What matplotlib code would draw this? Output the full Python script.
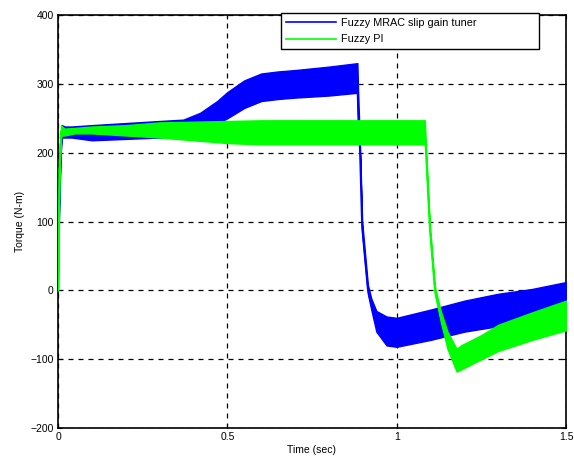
import numpy as np
import matplotlib
matplotlib.use("Agg")
import matplotlib.pyplot as plt

plt.rcParams['font.family'] = ['Liberation Sans', 'DejaVu Sans']

# Fuzzy MRAC slip gain tuner: envelope of the oscillating torque band
t_mrac = [0.000, 0.003, 0.008, 0.012, 0.02, 0.04, 0.10, 0.20, 0.30, 0.37, 0.42, 0.47, 0.50,
          0.55, 0.60, 0.65, 0.70, 0.80, 0.884, 0.886, 0.892, 0.898, 0.915, 0.925, 0.94,
          0.97, 1.00, 1.10, 1.20, 1.30, 1.40, 1.50]
lo_mrac = [35, 110, 200, 222, 222, 222, 218, 220, 222, 225, 232, 242, 250,
           265, 275, 278, 280, 283, 287, 240, 195, 85, -5, -28, -60,
           -80, -82, -72, -60, -52, -45, -37]
hi_mrac = [35, 120, 215, 240, 238, 238, 240, 243, 246, 248, 258, 275, 288,
           305, 315, 318, 320, 325, 330, 290, 205, 100, 8, -12, -30,
           -38, -40, -28, -15, -5, 2, 12]

# Fuzzy PI
t_pi = [0.000, 0.002, 0.004, 0.006, 0.009, 0.012, 0.02, 0.05, 0.10, 0.20, 0.30, 0.40, 0.50,
        0.60, 0.80, 1.00, 1.083, 1.086, 1.092, 1.098, 1.113, 1.13, 1.15, 1.177, 1.19,
        1.25, 1.30, 1.40, 1.50]
lo_pi = [0, 60, 170, 190, 222, 225, 225, 228, 228, 225, 222, 218, 214,
         212, 212, 212, 212, 200, 140, 85, -5, -45, -85, -118, -115,
         -100, -88, -72, -58]
hi_pi = [0, 100, 180, 200, 240, 238, 235, 236, 238, 240, 244, 245, 246,
         247, 247, 247, 247, 215, 155, 95, 5, -30, -60, -85, -80,
         -65, -50, -32, -15]

x_ticks = [0, 0.5, 1, 1.5]
x_tick_labels = ['0', '0.5', '1', '1.5']
y_ticks = [-200, -100, 0, 100, 200, 300, 400]

blue = '#0000ff'
green = '#00ff00'

fig = plt.figure(figsize=(5.74, 4.59), dpi=100)
ax = fig.add_axes([58/574, 1-428/459, (566-58)/574, (428-15)/459])

ax.fill_between(t_mrac, lo_mrac, hi_mrac, color=blue, lw=1.0, edgecolor=blue, zorder=3)
ax.plot(t_mrac, [(a+b)/2 for a, b in zip(lo_mrac, hi_mrac)], color=blue, lw=1.4, zorder=3,
        label='Fuzzy MRAC slip gain tuner')
ax.fill_between(t_pi, lo_pi, hi_pi, color=green, lw=1.0, edgecolor=green, zorder=4)
ax.plot(t_pi, [(a+b)/2 for a, b in zip(lo_pi, hi_pi)], color=green, lw=1.4, zorder=4,
        label='Fuzzy PI')

ax.set_xlim(0, 1.5)
ax.set_ylim(-200, 400)
ax.set_xticks(x_ticks)
ax.set_xticklabels(x_tick_labels)
ax.set_yticks(y_ticks)
ax.tick_params(direction='in', length=3, labelsize=7.5, width=0.8, top=True, right=True, pad=3)
ax.grid(True, color='black', linestyle=(0, (4, 4)), linewidth=0.9)
ax.set_axisbelow(True)
for s in ax.spines.values():
    s.set_linewidth(1.2)
    s.set_color('black')

ax.set_xlabel('Time (sec)', fontsize=7.5, labelpad=2)
ax.set_ylabel('Torque (N-m)', fontsize=7.5, labelpad=4)

lx0, lx1 = 281/574, 539/574
ly1, ly0 = 1-13/459, 1-51/459
leg = fig.legend(loc='upper left', bbox_to_anchor=(lx0, ly0, lx1-lx0, ly1-ly0),
                 mode='expand', fontsize=7.8,
                 frameon=True, fancybox=False, edgecolor='black', framealpha=1,
                 handlelength=4.6, borderaxespad=0, borderpad=0.45, labelspacing=0.6,
                 handletextpad=0.5)
leg.get_frame().set_linewidth(1.0)
leg.set_zorder(10)
for line in leg.get_lines():
    line.set_linewidth(1.2)

fig.savefig('out.png', dpi=100)
